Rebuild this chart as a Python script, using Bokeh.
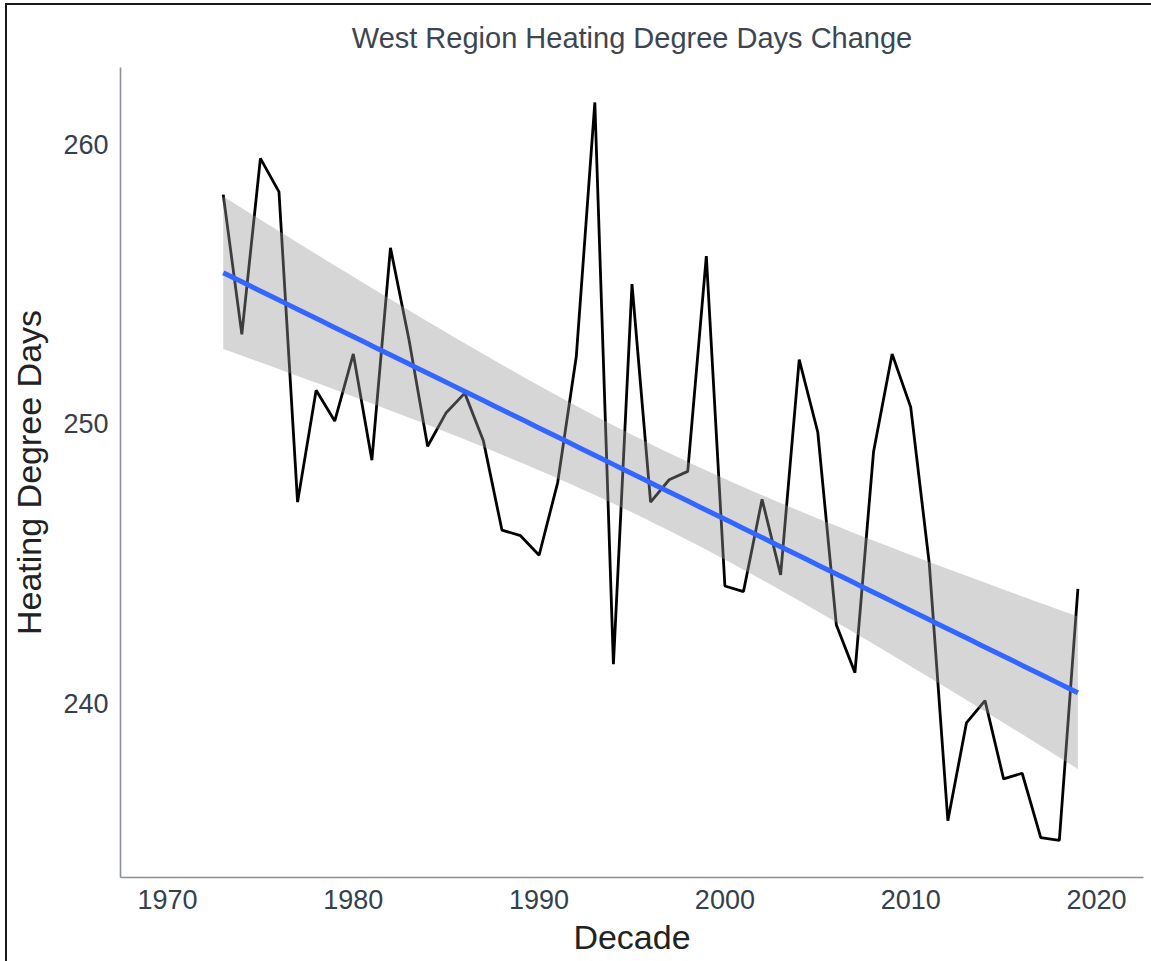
import numpy as np
from bokeh.plotting import figure
from bokeh.models import ColumnDataSource, FixedTicker
from bokeh.embed import file_html
from bokeh.resources import INLINE

years = list(range(1973, 2020))
hdd = [258.2, 253.2, 259.5, 258.3, 247.2, 251.2, 250.1, 252.5, 248.7, 256.3,
       253.0, 249.2, 250.4, 251.1, 249.4, 246.2, 246.0, 245.3, 247.9, 252.4,
       261.5, 241.4, 255.0, 247.2, 248.0, 248.3, 256.0, 244.2, 244.0, 247.3,
       244.6, 252.3, 249.7, 242.8, 241.1, 249.0, 252.5, 250.6, 245.0, 235.8,
       239.3, 240.1, 237.3, 237.5, 235.2, 235.1, 244.1]
x_ticks = [1970, 1980, 1990, 2000, 2010, 2020]
y_ticks = [240, 250, 260]
title_text = "West Region Heating Degree Days Change"
x_label = "Decade"
y_label = "Heating Degree Days"

# linear fit with 95% confidence band (as geom_smooth(method="lm"))
x = np.array(years, dtype=float)
y = np.array(hdd, dtype=float)
n = len(x)
b1, b0 = np.polyfit(x, y, 1)
xs = np.linspace(x.min(), x.max(), 80)
fit = b0 + b1 * xs
resid = y - (b0 + b1 * x)
s = np.sqrt(np.sum(resid ** 2) / (n - 2))
sxx = np.sum((x - x.mean()) ** 2)
se = s * np.sqrt(1.0 / n + (xs - x.mean()) ** 2 / sxx)
t_crit = 2.0141
lo = fit - t_crit * se
hi = fit + t_crit * se

src = ColumnDataSource(dict(year=years, hdd=hdd))
band = ColumnDataSource(dict(x=xs, lo=lo, hi=hi, fit=fit))

p = figure(width=1144, height=956, x_range=(1967.47, 2022.53), y_range=(233.77, 262.75),
           output_backend="svg", toolbar_location=None,
           min_border_left=100, min_border_top=56, min_border_bottom=84, min_border_right=8,
           frame_width=1023, frame_height=810)
p.styles = {"border-left": "2px solid #1a1a1a", "border-top": "2px solid #1a1a1a",
            "margin-left": "5px", "margin-top": "3px"}

p.line("year", "hdd", source=src, line_color="black", line_width=2.8)
p.varea(x="x", y1="lo", y2="hi", source=band, fill_color="#999999", fill_alpha=0.4)
p.line("x", "fit", source=band, line_color="#3366FF", line_width=5)

p.title.text = title_text
p.title.align = "center"
p.title.text_font = "Liberation Sans"
p.title.text_font_size = "29px"
p.title.text_font_style = "normal"
p.title.text_color = "#3d4650"
p.title.standoff = 28

p.grid.visible = False
p.outline_line_color = None
p.background_fill_color = "white"
p.border_fill_color = "white"

for ax in (p.xaxis[0], p.yaxis[0]):
    ax.axis_line_color = "#8a9096"
    ax.axis_line_width = 1.6
    ax.major_tick_line_color = None
    ax.minor_tick_line_color = None
    ax.major_tick_out = 0
    ax.major_tick_in = 0
    ax.major_label_text_font = "Liberation Sans"
    ax.major_label_text_font_size = "27px"
    ax.major_label_text_color = "#34404c"
    ax.axis_label_text_font = "Liberation Sans"
    ax.axis_label_text_font_size = "34px"
    ax.axis_label_text_font_style = "normal"
    ax.axis_label_text_color = "#222222"
    ax.major_label_standoff = 12

p.xaxis[0].ticker = FixedTicker(ticks=x_ticks)
p.yaxis[0].ticker = FixedTicker(ticks=y_ticks)
p.xaxis[0].axis_label = x_label
p.yaxis[0].axis_label = y_label
p.xaxis[0].axis_label_standoff = 6
p.yaxis[0].axis_label_standoff = 12

open("out.html", "w").write(file_html(p, INLINE))
